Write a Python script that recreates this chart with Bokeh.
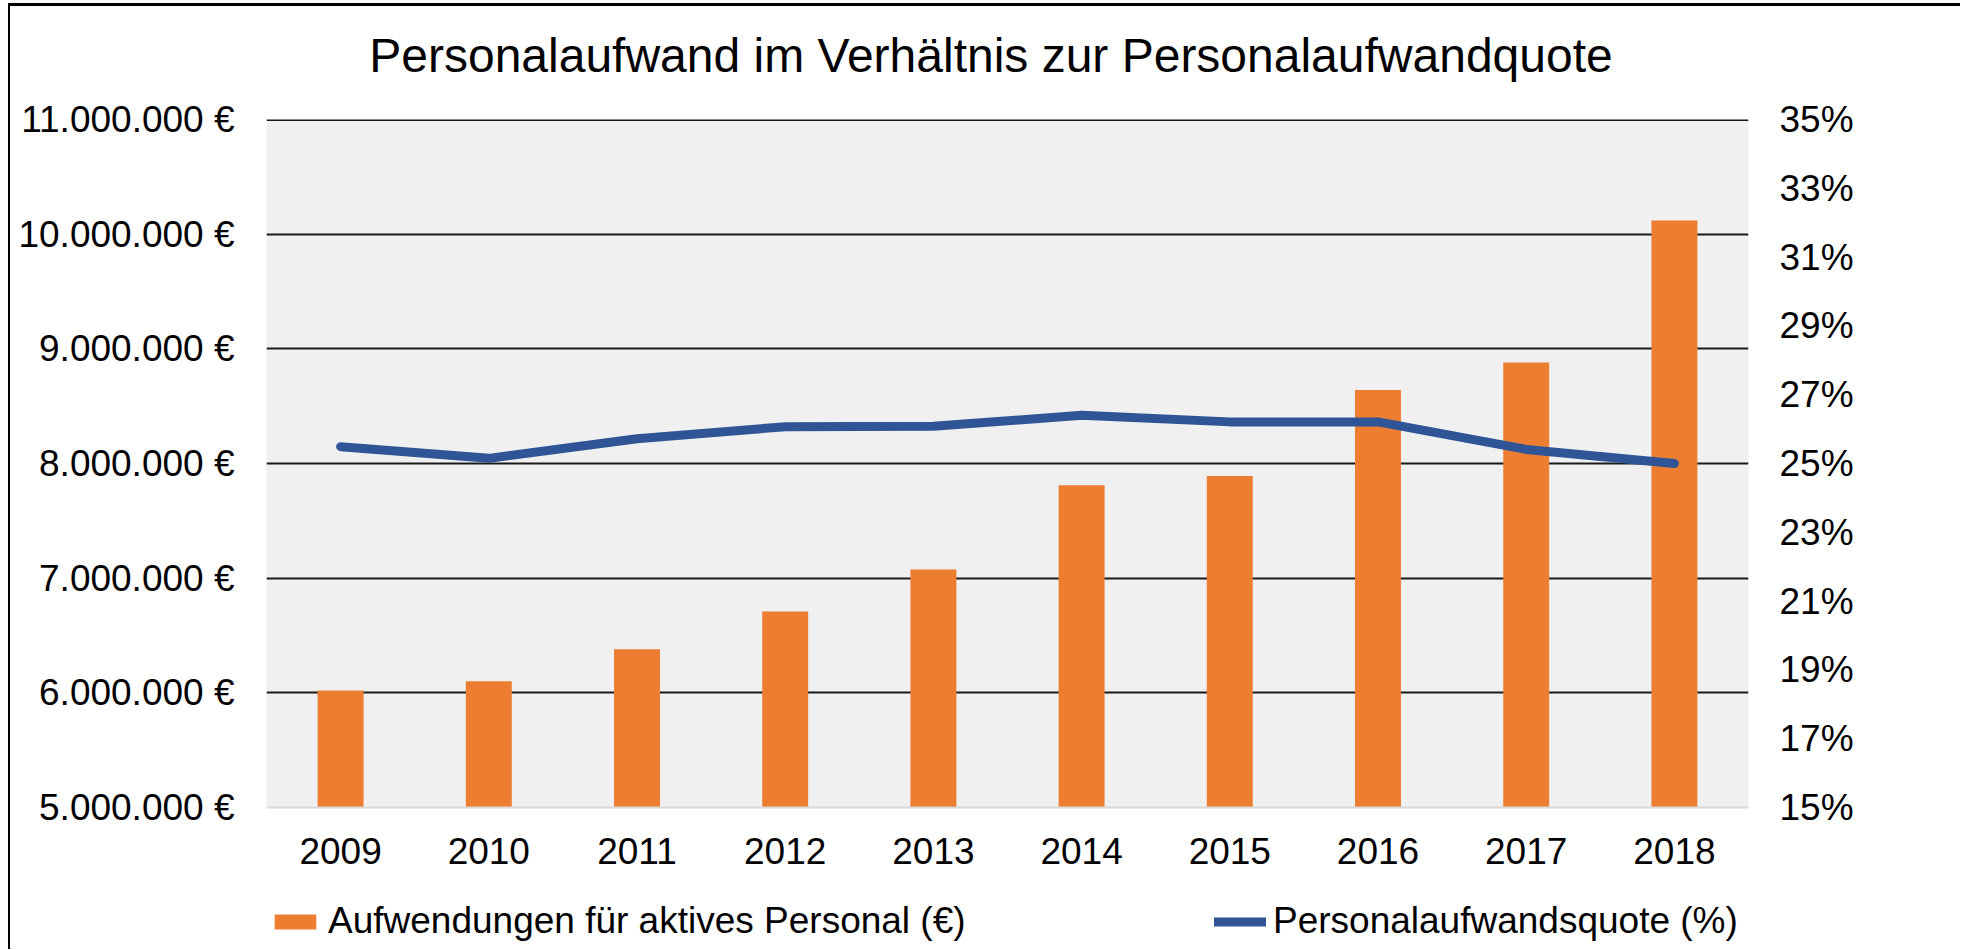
from bokeh.plotting import figure
from bokeh.layouts import column
from bokeh.models import (FactorRange, Range1d, LinearAxis, FixedTicker, Legend,
                          LegendItem, Label, Span, ColumnDataSource)
from bokeh.embed import file_html
from bokeh.resources import INLINE

# ---- data ----
years = ["2009", "2010", "2011", "2012", "2013", "2014", "2015", "2016", "2017", "2018"]
aufwand = [6020000, 6100000, 6380000, 6710000, 7075000, 7810000, 7890000, 8640000, 8880000, 10120000]
quote = [25.49, 25.15, 25.72, 26.07, 26.08, 26.40, 26.21, 26.21, 25.41, 25.00]

left_ticks = [5000000, 6000000, 7000000, 8000000, 9000000, 10000000, 11000000]
left_labels = ["5.000.000 €", "6.000.000 €", "7.000.000 €", "8.000.000 €",
               "9.000.000 €", "10.000.000 €", "11.000.000 €"]
grid_ticks = [6000000, 7000000, 8000000, 9000000, 10000000, 11000000]
right_ticks = [15, 17, 19, 21, 23, 25, 27, 29, 31, 33, 35]
right_labels = ["15%", "17%", "19%", "21%", "23%", "25%", "27%", "29%", "31%", "33%", "35%"]

title_text = "Personalaufwand im Verhältnis zur Personalaufwandquote"
bar_label = "Aufwendungen für aktives Personal (€)"
line_label = "Personalaufwandsquote (%)"

FONT = "Liberation Sans"
LABEL_SIZE = "37px"
ORANGE = "#ED7D31"
BLUE = "#2F5597"

src = ColumnDataSource(dict(year=years, aufwand=aufwand, quote=quote))

# ---- title strip ----
tf = figure(width=1950, height=83, x_range=Range1d(0, 1), y_range=Range1d(0, 1),
            x_axis_type=None, y_axis_type=None, min_border=0,
            output_backend="svg", toolbar_location=None,
            outline_line_color=None, background_fill_color="white",
            border_fill_color="white")
tf.grid.visible = False
tf.add_layout(Label(x=724.5, y=34, x_units="screen", y_units="screen",
                    text=title_text, text_align="center", text_baseline="alphabetic",
                    text_font=FONT, text_font_size="48px", text_color="black"))

# ---- main chart ----
p = figure(x_range=FactorRange(factors=years, range_padding=0),
           y_range=Range1d(left_ticks[0], left_ticks[-1]),
           width=1950, height=788,
           min_border_left=256, min_border_right=212,
           min_border_top=30, min_border_bottom=70,
           output_backend="svg", toolbar_location=None,
           background_fill_color="#F0F0F0", border_fill_color="white",
           outline_line_color=None)

p.extra_y_ranges = {"pct": Range1d(right_ticks[0], right_ticks[-1])}

# grid
p.xgrid.visible = False
p.ygrid.ticker = FixedTicker(ticks=grid_ticks)
p.ygrid.grid_line_color = "#1a1a1a"
p.ygrid.grid_line_width = 2
p.add_layout(Span(location=grid_ticks[-1], dimension="width",
                  line_color="#1a1a1a", line_width=3, level="underlay"))

# left axis
ya = p.yaxis[0]
ya.ticker = FixedTicker(ticks=left_ticks)
ya.major_label_overrides = {t: l for t, l in zip(left_ticks, left_labels)}
ya.axis_line_color = None
ya.major_tick_line_color = None
ya.minor_tick_line_color = None
ya.major_label_standoff = 26
ya.major_label_text_font = FONT
ya.major_label_text_font_size = LABEL_SIZE
ya.major_label_text_color = "black"

# right axis
ra = LinearAxis(y_range_name="pct", ticker=FixedTicker(ticks=right_ticks))
ra.major_label_overrides = {t: l for t, l in zip(right_ticks, right_labels)}
ra.axis_line_color = None
ra.major_tick_line_color = None
ra.minor_tick_line_color = None
ra.major_label_standoff = 25
ra.major_label_text_font = FONT
ra.major_label_text_font_size = LABEL_SIZE
ra.major_label_text_color = "black"
p.add_layout(ra, "right")

# x axis
xa = p.xaxis[0]
xa.axis_line_color = "#D9D9D9"
xa.axis_line_width = 2
xa.major_tick_line_color = None
xa.minor_tick_line_color = None
xa.major_label_standoff = 24
xa.major_label_text_font = FONT
xa.major_label_text_font_size = LABEL_SIZE
xa.major_label_text_color = "black"

p.vbar(x="year", top="aufwand", bottom=0, width=0.31, source=src,
       fill_color=ORANGE, line_color=None)
p.line(x="year", y="quote", y_range_name="pct", source=src,
       line_color=BLUE, line_width=9, line_cap="round", line_join="round")

# ---- legend strip (shares the categorical x range; its renderers stay hidden) ----
lg = figure(width=1950, height=72, x_range=p.x_range, y_range=Range1d(0, 1),
            x_axis_type=None, y_axis_type=None, min_border=0,
            output_backend="svg", toolbar_location=None,
            outline_line_color=None, background_fill_color="white",
            border_fill_color="white")
lg.grid.visible = False
lbar = lg.vbar(x="year", top="aufwand", width=0.31, source=src,
               fill_color=ORANGE, line_color=None, visible=False)
lline = lg.line(x="year", y="quote", source=src, line_color=BLUE,
                line_width=9, line_cap="round", visible=False)

def make_legend(label, rend, loc):
    return Legend(items=[LegendItem(label=label, renderers=[rend])],
                  location=loc, orientation="horizontal",
                  glyph_width=52, glyph_height=19, label_height=19,
                  label_standoff=7, padding=0, margin=0, spacing=0,
                  border_line_color=None, background_fill_alpha=0,
                  inactive_fill_alpha=0, click_policy="none",
                  label_text_font=FONT, label_text_font_size=LABEL_SIZE,
                  label_text_color="black")

lg.add_layout(make_legend(bar_label, lbar, (3, 7)))
lg.add_layout(make_legend(line_label, lline, (948, 7)))

layout = column(tf, p, lg, spacing=0)
layout.styles = {"margin-left": "8px", "margin-top": "3px",
                 "border-left": "2px solid black", "border-top": "3px solid black"}

open("out.html", "w").write(file_html(layout, INLINE))
